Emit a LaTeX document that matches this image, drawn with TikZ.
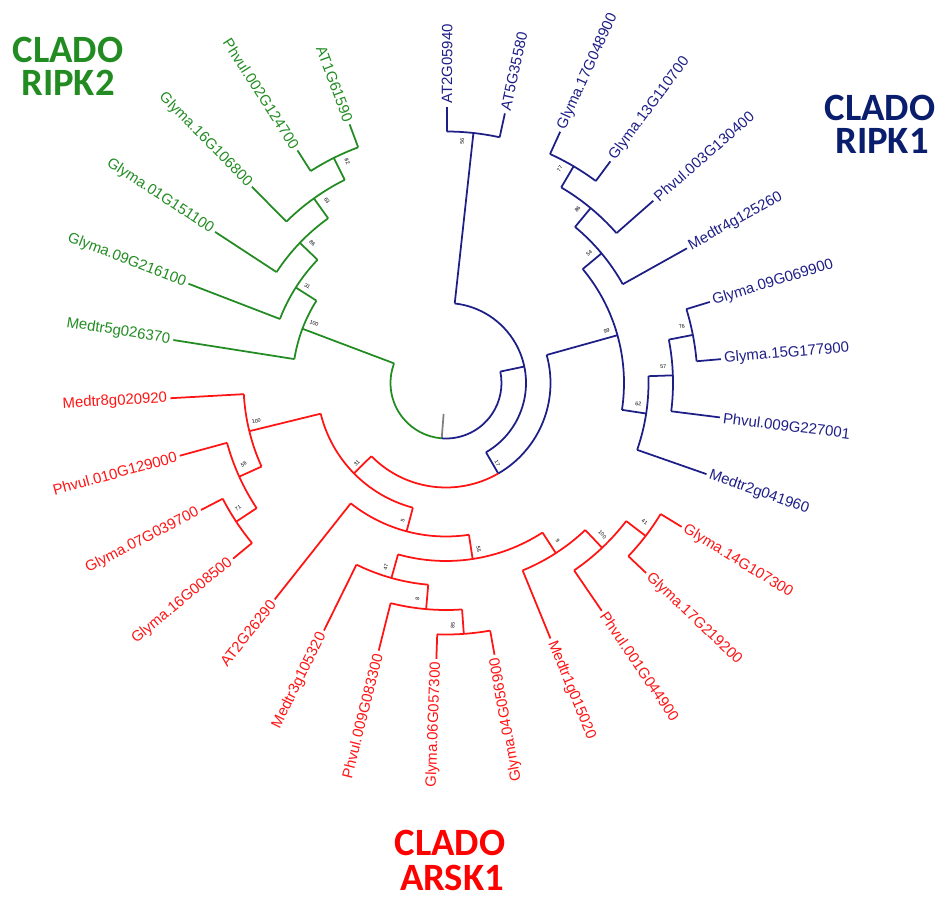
\documentclass[tikz,border=0pt]{standalone}
\usepackage{fontspec}
\setmainfont{Liberation Sans}
\newfontfamily\cladofont{Carlito}
\definecolor{ripkgreen}{RGB}{34,139,34}
\definecolor{ripkblue}{RGB}{30,30,135}
\definecolor{arskred}{RGB}{255,20,20}
\definecolor{cladoblue}{RGB}{10,30,110}
\def\ringarc[#1](#2:#3:#4){\draw[#1] (#2:#4) arc (#2:#3:#4);}
\def\spoke[#1](#2:#3:#4){\draw[#1] (#2:#3) -- (#2:#4);}
\tikzset{
	gline/.style={ripkgreen, line width=1pt},
	bline/.style={ripkblue, line width=1pt},
	rline/.style={arskred, line width=1pt},
	leaf/.style={inner sep=0pt, font=\fontsize{8.5}{9}\selectfont},
	tipout/.style={leaf, anchor=west},
	tipin/.style={leaf, anchor=east},
	boot/.style={inner sep=0pt, font=\fontsize{3}{3}\selectfont},
	clado/.style={inner sep=0pt, font=\cladofont\bfseries\fontsize{22}{22}\selectfont}
}

\begin{document}
\begin{tikzpicture}[x=0.02cm, y=0.02cm]
			\useasboundingbox (-446,-526) rectangle (499,383);
			%%%%% ROOT %%%%%
			\draw[gray, line width=1pt] (265.59:31) -- (265.59:55.5);
			\ringarc[gline](159.299:265.59:55.5)
			\ringarc[bline](265.59:371.872:55.5)
			
			%%%%% CLADO RIPK2 %%%%%
			\spoke[gline](159.299:55.5:153.5)
			\ringarc[gline](147.5575:171.04:153.5)
			\spoke[gline](171.04:153.5:276)
			\spoke[gline](147.5575:153.5:178)
			\ringarc[gline](136.195:158.92:178)
			\spoke[gline](158.92:178:276)
			\spoke[gline](136.195:178:202.5)
			\ringarc[gline](125.59:146.80:202.5)
			\spoke[gline](146.80:202.5:276)
			\spoke[gline](125.59:202.5:227)
			\ringarc[gline](116.50:134.68:227)
			\spoke[gline](134.68:227:276)
			\spoke[gline](116.50:227:251.5)
			\ringarc[gline](110.44:122.56:251.5)
			\spoke[gline](110.44:251.5:276)
			\spoke[gline](122.56:251.5:276)
			
			%%%%% CLADO RIPK1 %%%%%
			\spoke[bline](11.872:55.5:80)
			\ringarc[bline](-59.9955:83.74:80)
			\spoke[bline](83.74:80:251.5)
			\ringarc[bline](77.68:89.80:251.5)
			\spoke[bline](89.80:251.5:276)
			\spoke[bline](77.68:251.5:276)
			
			\spoke[bline](-59.9955:80:104.5)
			\ringarc[bline](-59.9955:15.565:104.5)
			\spoke[bline](15.565:104.5:178)
			\ringarc[bline](-8.675:39.805:178)
			
			\spoke[bline](39.805:178:202.5)
			\ringarc[bline](29.20:50.41:202.5)
			\spoke[bline](29.20:202.5:276)
			\spoke[bline](50.41:202.5:227)
			\ringarc[bline](41.32:59.50:227)
			\spoke[bline](41.32:227:276)
			\spoke[bline](59.50:227:251.5)
			\ringarc[bline](53.44:65.56:251.5)
			\spoke[bline](53.44:251.5:276)
			\spoke[bline](65.56:251.5:276)
			
			\spoke[bline](-8.675:178:202.5)
			\ringarc[bline](-19.28:1.93:202.5)
			\spoke[bline](-19.28:202.5:276)
			\spoke[bline](1.93:202.5:227)
			\ringarc[bline](-7.16:11.02:227)
			\spoke[bline](-7.16:227:276)
			\spoke[bline](11.02:227:251.5)
			\ringarc[bline](4.96:17.08:251.5)
			\spoke[bline](4.96:251.5:276)
			\spoke[bline](17.08:251.5:276)
			
			%%%%% CLADO ARSK1 %%%%%
			\ringarc[rline](-135.556:-59.9955:104.5)
			\spoke[rline](-135.556:104.5:129)
			\ringarc[rline](-166.235:-104.8775:129)
			
			\spoke[rline](-166.235:129:202.5)
			\ringarc[rline](-176.84:-155.63:202.5)
			\spoke[rline](-176.84:202.5:276)
			\spoke[rline](-155.63:202.5:227)
			\ringarc[rline](-164.72:-146.54:227)
			\spoke[rline](-164.72:227:276)
			\spoke[rline](-146.54:227:251.5)
			\ringarc[rline](-152.60:-140.48:251.5)
			\spoke[rline](-152.60:251.5:276)
			\spoke[rline](-140.48:251.5:276)
			
			\spoke[rline](-104.8775:129:153.5)
			\ringarc[rline](-128.36:-81.395:153.5)
			\spoke[rline](-128.36:153.5:276)
			\spoke[rline](-81.395:153.5:178)
			\ringarc[rline](-105.635:-57.155:178)
			
			\spoke[rline](-105.635:178:202.5)
			\ringarc[rline](-116.24:-95.03:202.5)
			\spoke[rline](-116.24:202.5:276)
			\spoke[rline](-95.03:202.5:227)
			\ringarc[rline](-104.12:-85.94:227)
			\spoke[rline](-104.12:227:276)
			\spoke[rline](-85.94:227:251.5)
			\ringarc[rline](-92.00:-79.88:251.5)
			\spoke[rline](-92.00:251.5:276)
			\spoke[rline](-79.88:251.5:276)
			
			\spoke[rline](-57.155:178:202.5)
			\ringarc[rline](-67.76:-46.55:202.5)
			\spoke[rline](-67.76:202.5:276)
			\spoke[rline](-46.55:202.5:227)
			\ringarc[rline](-55.64:-37.46:227)
			\spoke[rline](-55.64:227:276)
			\spoke[rline](-37.46:227:251.5)
			\ringarc[rline](-43.52:-31.40:251.5)
			\spoke[rline](-43.52:251.5:276)
			\spoke[rline](-31.40:251.5:276)
			
			%%%%% LEAVES %%%%%
			\node[tipout, rotate=89.80, text=ripkblue] (at2g05940) at (89.80:279) {AT2G05940};
			\node[tipout, rotate=77.68, text=ripkblue] (at5g35580) at (77.68:279) {AT5G35580};
			\node[tipout, rotate=65.56, text=ripkblue] (gm17g048900) at (65.56:279) {Glyma.17G048900};
			\node[tipout, rotate=53.44, text=ripkblue] (gm13g110700) at (53.44:279) {Glyma.13G110700};
			\node[tipout, rotate=41.32, text=ripkblue] (pv003g130400) at (41.32:279) {Phvul.003G130400};
			\node[tipout, rotate=29.20, text=ripkblue] (mt4g125260) at (29.20:279) {Medtr4g125260};
			\node[tipout, rotate=17.08, text=ripkblue] (gm09g069900) at (17.08:279) {Glyma.09G069900};
			\node[tipout, rotate=4.96, text=ripkblue] (gm15g177900) at (4.96:279) {Glyma.15G177900};
			\node[tipout, rotate=-7.16, text=ripkblue] (pv009g227001) at (-7.16:279) {Phvul.009G227001};
			\node[tipout, rotate=-19.28, text=ripkblue] (mt2g041960) at (-19.28:279) {Medtr2g041960};
			
			\node[tipout, rotate=-31.40, text=arskred] (gm14g107300) at (-31.40:279) {Glyma.14G107300};
			\node[tipout, rotate=-43.52, text=arskred] (gm17g219200) at (-43.52:279) {Glyma.17G219200};
			\node[tipout, rotate=-55.64, text=arskred] (pv001g044900) at (-55.64:279) {Phvul.001G044900};
			\node[tipout, rotate=-67.76, text=arskred] (mt1g015020) at (-67.76:279) {Medtr1g015020};
			\node[tipin, rotate=100.12, text=arskred] (gm04g056900) at (-79.88:279) {Glyma.04G056900};
			\node[tipin, rotate=88.00, text=arskred] (gm06g057300) at (-92.00:279) {Glyma.06G057300};
			\node[tipin, rotate=75.88, text=arskred] (pv009g083300) at (-104.12:279) {Phvul.009G083300};
			\node[tipin, rotate=63.76, text=arskred] (mt3g105320) at (-116.24:279) {Medtr3g105320};
			\node[tipin, rotate=51.64, text=arskred] (at2g26290) at (-128.36:279) {AT2G26290};
			\node[tipin, rotate=39.52, text=arskred] (gm16g008500) at (-140.48:279) {Glyma.16G008500};
			\node[tipin, rotate=27.40, text=arskred] (gm07g039700) at (-152.60:279) {Glyma.07G039700};
			\node[tipin, rotate=15.28, text=arskred] (pv010g129000) at (-164.72:279) {Phvul.010G129000};
			\node[tipin, rotate=3.16, text=arskred] (mt8g020920) at (-176.84:279) {Medtr8g020920};
			
			\node[tipin, rotate=-8.96, text=ripkgreen] (mt5g026370) at (171.04:279) {Medtr5g026370};
			\node[tipin, rotate=-21.08, text=ripkgreen] (gm09g216100) at (158.92:279) {Glyma.09G216100};
			\node[tipin, rotate=-33.20, text=ripkgreen] (gm01g151100) at (146.80:279) {Glyma.01G151100};
			\node[tipin, rotate=-45.32, text=ripkgreen] (gm16g106800) at (134.68:279) {Glyma.16G106800};
			\node[tipin, rotate=-57.44, text=ripkgreen] (pv002g124700) at (122.56:279) {Phvul.002G124700};
			\node[tipin, rotate=-69.56, text=ripkgreen] (at1g61590) at (110.44:279) {AT1G61590};
			
			%%%%% BOOTSTRAP %%%%%
			\node[boot, rotate=83.74] (bsat) at (86.2:242.5) {56};
			\node[boot, rotate=59.50] (bsg17) at (62.0:242.5) {77};
			\node[boot, rotate=50.41] (bsp3) at (52.9:218) {86};
			\node[boot, rotate=39.81] (bsm4) at (42.3:193.5) {54};
			\node[boot, rotate=15.57] (bsr1) at (18.1:169) {99};
			\node[boot, rotate=11.02] (bsg9) at (13.5:242.5) {76};
			\node[boot, rotate=1.93] (bsp9) at (4.4:218) {57};
			\node[boot, rotate=-8.68] (bsm2) at (-6.2:193.5) {62};
			\node[boot, rotate=-60.00] (bsb) at (-57.5:95.5) {17};
			\node[boot, rotate=-37.46] (bsrg) at (-35.0:242.5) {41};
			\node[boot, rotate=-46.55] (bsrf) at (-44.1:218) {100};
			\node[boot, rotate=-57.16] (bsre) at (-54.7:193.5) {9};
			\node[boot, rotate=-81.40] (bsrd) at (-78.9:169) {55};
			\node[boot, rotate=85.94] (bsrb1) at (-88.4:242.5) {85};
			\node[boot, rotate=84.97] (bsrb2) at (-97.5:218) {8};
			\node[boot, rotate=74.37] (bsrb) at (-108.1:193.5) {47};
			\node[boot, rotate=75.12] (bsrc) at (-107.4:144.5) {5};
			\node[boot, rotate=44.44] (bsarsk) at (-138.0:120) {31};
			\node[boot, rotate=33.46] (bsra1) at (-149.0:242.5) {71};
			\node[boot, rotate=24.37] (bsra2) at (-158.1:218) {56};
			\node[boot, rotate=13.77] (bsra) at (-168.7:193.5) {100};
			\node[boot, rotate=-63.50] (bsg1) at (114.0:242.5) {82};
			\node[boot, rotate=-54.41] (bsg2) at (123.1:218) {63};
			\node[boot, rotate=-43.81] (bsg3) at (133.7:193.5) {86};
			\node[boot, rotate=-32.44] (bsg4) at (145.1:169) {31};
			\node[boot, rotate=-20.70] (bsgn) at (155.8:144.5) {100};
			
			%%%%% CLADES %%%%%
			\node[clado, text=ripkgreen] (ripk2a) at (-378,333) {CLADO};
			\node[clado, text=ripkgreen] (ripk2b) at (-378,300) {RIPK2};
			\node[clado, text=cladoblue] (ripk1a) at (434,275) {CLADO};
			\node[clado, text=cladoblue] (ripk1b) at (436,242) {RIPK1};
			\node[clado, text=red] (arsk1a) at (4,-460) {CLADO};
			\node[clado, text=red] (arsk1b) at (6,-495) {ARSK1};
\end{tikzpicture}
\end{document}
